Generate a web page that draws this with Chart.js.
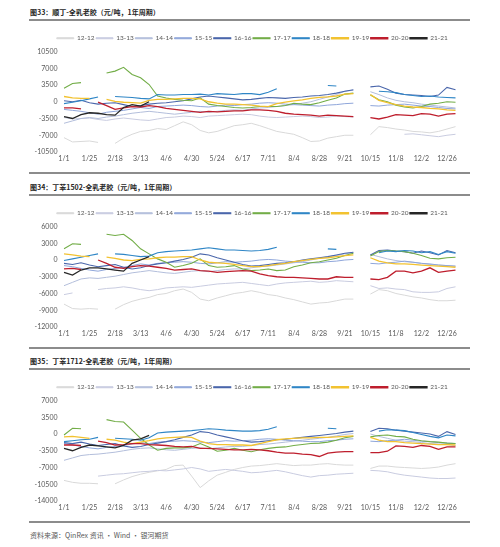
<!DOCTYPE html>
<html lang="zh">
<head>
<meta charset="utf-8">
<title>合成胶-全乳老胶价差</title>
<script src="https://cdn.jsdelivr.net/npm/chart.js@4.4.1/dist/chart.umd.min.js"></script>
<style>
  body { margin: 0; background: #fff; }
  #page { position: relative; width: 500px; height: 547px; overflow: hidden; background: #fff; }
  .panel { position: absolute; left: 29px; width: 441px; height: 175px; }
  .panel .title { position: absolute; left: 1px; top: 5px; height: 14px; line-height: 14px; font-family: 'Noto Sans CJK SC', sans-serif; font-weight: bold; font-size: 7px; color: #262626; white-space: nowrap; }
  .panel .rule { position: absolute; left: 0; width: 441px; height: 2px; background: #8c8c8c; }
  .panel canvas { position: absolute; left: 0; top: 21px; }
  #source { position: absolute; left: 30px; top: 529px; height: 12px; line-height: 12px; font-family: 'Noto Sans CJK SC', sans-serif; font-size: 7px; color: #595959; }
</style>
</head>
<body>
<div id="page">
  <div class="panel" style="top: 0px;">
    <div class="title">图33：顺丁-全乳老胶（元/吨，1年周期）</div>
    <div class="rule" style="top: 19px;"></div>
    <canvas id="chart33" width="441" height="151"></canvas>
    <div class="rule" style="top: 172px;"></div>
  </div>
  <div class="panel" style="top: 175px;">
    <div class="title">图34：丁苯1502-全乳老胶（元/吨，1年周期）</div>
    <div class="rule" style="top: 19px;"></div>
    <canvas id="chart34" width="441" height="151"></canvas>
    <div class="rule" style="top: 172px;"></div>
  </div>
  <div class="panel" style="top: 349px;">
    <div class="title">图35：丁苯1712-全乳老胶（元/吨，1年周期）</div>
    <div class="rule" style="top: 19px;"></div>
    <canvas id="chart35" width="441" height="151"></canvas>
    <div class="rule" style="top: 172px;"></div>
  </div>
  <div id="source">资料来源：QinRex 资讯 · Wind · 银河期货</div>
</div>

<script>
const _ = null;

// x categories, one point every 8 days
const dateLabels = ['1/1','1/9','1/17','1/25','2/2','2/10','2/18','2/26','3/5','3/13',
  '3/21','3/29','4/6','4/14','4/22','4/30','5/8','5/16','5/24','6/1',
  '6/9','6/17','6/25','7/3','7/11','7/19','7/27','8/4','8/12','8/20',
  '8/28','9/5','9/13','9/21','9/29','10/7','10/15','10/23','10/31','11/8',
  '11/16','11/24','12/2','12/10','12/18','12/26','1/3'];
const tickLabels = ['1/1','1/25','2/18','3/13','4/6','4/30','5/24','6/17','7/11','8/4','8/28','9/21','10/15','11/8','12/2','12/26'];
const seriesNames = ['12-12','13-13','14-14','15-15','16-16','17-17','18-18','19-19','20-20','21-21'];

// 图33 顺丁-全乳老胶
const p33_12 = [-7500,-8400,-8300,-8200,-8500,_,-8700,-7600,-6800,-6200,
  -6000,-5600,-5800,-5000,-4200,-4800,-6000,-6500,-6200,-5600,
  -5000,-4800,-4500,-5000,-5600,-6200,-6500,-6800,-7500,-8300,
  -8200,-7600,-7300,-7000,-7000,_,
  -6900,-5200,-5400,-5700,-5900,-6200,-6300,-6500,-6200,-5700,-5200];
const p33_13 = [-3300,-3600,-3500,-3400,-3700,-3900,-3600,-3400,-3600,-3800,
  -3900,-3600,-3300,-3200,-3000,-3100,-3300,-3000,-2900,-2800,
  -2700,-2600,-2700,-3000,-3200,-3300,-3200,-3100,-3000,-3100,
  -3300,-3200,-3000,-3100,-3200,_,
  _,_,_,_,-6800,-6700,-6900,-7100,-7300,-7000,-6800];
const p33_14 = [-4500,-4000,-3500,-3300,-3500,-3200,-3000,-2700,-2400,-2200,
  -2000,-2200,-2400,-2600,-2400,-2200,-2000,-2200,-2000,-1800,
  -1700,-1800,-1500,-1300,-1200,-1000,-800,-600,-300,0,
  500,1000,1500,2200,2400,_,
  2100,1500,800,300,0,-200,-500,-700,-900,-1100,-1300];
const p33_15 = [-1600,-1800,-2000,-2300,-2600,-2200,-2000,-1800,-1500,-1200,
  -1400,-1000,-900,-800,-700,-800,-1000,-1100,-900,-700,
  -800,-600,-500,-300,-200,-300,-500,-600,-700,-800,
  -900,-700,-600,-400,-300,_,
  -800,-900,-700,-600,-500,-700,-900,-1000,-1200,-1400,-1500];
const p33_16 = [200,0,300,-200,-500,-300,-200,-600,-1000,-800,
  -500,-300,-200,0,200,600,1000,1200,1000,800,
  600,400,500,700,900,800,700,900,1000,1200,
  1300,1500,1800,2200,2500,_,
  3100,3300,2600,1800,1500,1400,1300,1100,1400,3000,2500];
const p33_17 = [2800,3800,4000,_,_,6000,6400,7200,5700,5000,
  3600,1200,800,500,300,200,800,-500,-800,-1000,
  -1200,-1300,-1200,-1000,-1000,-1000,-800,-300,-500,-600,
  -200,300,800,1600,1800,_,
  1400,400,0,-700,-1100,-1300,-1000,-500,-300,0,-100];
const p33_18 = [-400,-100,200,600,1000,_,1100,1000,900,700,
  600,1500,1400,1400,1500,1500,1600,1400,1700,1600,
  1500,1700,1700,1500,2000,2700,_,_,_,_,
  _,3400,3300,_,_,_,
  _,2200,2100,1900,1500,1300,1100,1200,1000,900,800];
const p33_19 = [1100,800,700,700,_,500,100,-100,-200,-300,
  300,500,500,600,700,700,600,0,-300,-500,
  -500,-600,-700,-900,-1000,-400,-100,200,400,700,
  900,1000,1200,1600,1700,_,
  1500,300,-200,-600,-900,-1100,-1200,-1400,-1500,-1700,-1800];
const p33_20 = [-1300,-1300,-1500,_,-100,-800,-1600,-1300,-1000,-1100,
  -800,-1000,-1400,-1600,-1800,-2000,-2200,-2000,-2100,-2000,
  -1900,-1900,-1700,-1700,-1800,-2000,-2400,-2600,-2700,-2800,
  -3000,-2800,-2900,-3000,-3100,_,
  -3300,-3600,-3200,-2700,-2800,-2900,-2500,-2600,-3000,-2600,-2500];
const p33_21 = [-3100,-3500,-2700,-2300,-2400,-2700,-2800,-1200,-600,-900,0];

// 图34 丁苯1502-全乳老胶
const p34_12 = [-7900,-8700,-8800,-8700,-8800,_,-8800,-8000,-7400,-7000,
  -6700,-6200,-6000,-5500,-5200,-5800,-7000,-7300,-6800,-6400,
  -6000,-5800,-5500,-5800,-6200,-6400,-6800,-7100,-7500,-7900,
  -7700,-7600,-7300,-7000,-7000,_,
  -6100,-5300,-5500,-6000,-6300,-6600,-6800,-7100,-7300,-7300,-7200];
const p34_13 = [-6200,-5900,_,_,-5300,-5100,-5000,-4800,-5000,-5300,
  -5500,-5300,-5000,-4900,-4800,-4900,-4700,-4500,-4300,-4200,
  -4100,-4000,-4200,-4400,-4600,-4300,-4100,-4000,-3900,-3800,
  -4000,-3900,-3700,-3800,-3900,_,
  -4600,-5100,-5000,-5200,-5300,-5700,-5800,-5800,-5700,-5100,-4800];
const p34_14 = [-4600,-4000,-3400,-3200,-3300,-3100,-2900,-2600,-2300,-2100,
  -1900,-2100,-2300,-2400,-2200,-2000,-1900,-2100,-1900,-1700,
  -1600,-1600,-1400,-1200,-1100,-900,-700,-500,-300,0,
  300,500,800,1100,1300,_,
  1000,600,200,-100,-300,-400,-600,-800,-900,-1000,-1100];
const p34_15 = [-1000,-1200,-1500,-1800,-2000,-1700,-1500,-1300,-1000,-700,
  -900,-600,-500,-400,-300,-400,-600,-700,-500,-300,
  -400,-300,-200,0,100,0,-200,-300,-400,-500,
  -500,-300,-200,0,100,_,
  -600,-700,-500,-400,-200,-400,-600,-700,-900,-1000,-1100];
const p34_16 = [-600,-800,-500,-900,-1200,-1000,-800,-1300,-1600,-1400,
  -1000,-700,-500,-200,100,500,1100,900,400,0,
  -400,-800,-1100,-1000,-800,-600,-500,-300,0,200,
  400,600,900,1200,1400,_,
  900,1700,1800,1600,1500,1200,1600,1300,900,1700,1300];
const p34_17 = [2000,2900,2800,_,_,4600,4400,4600,3500,2000,
  1100,200,-400,-1300,-1000,-600,200,-1000,-1300,-1200,
  -1000,-1600,-1900,-1800,-1600,-1900,-1800,-1200,-900,-500,
  -300,0,300,800,1200,_,
  700,1500,1700,1600,1500,1200,800,300,200,400,500];
const p34_18 = [-100,200,500,800,1100,_,1100,1000,800,600,
  700,1300,1500,1600,1700,1800,2000,2200,2000,1800,
  1800,1700,1600,1700,1900,2300,_,_,_,_,
  _,2000,1900,_,_,_,
  _,1300,1600,1500,1700,1600,1300,1500,1000,1500,1200];
const p34_19 = [1100,900,700,600,_,500,300,0,-100,100,
  200,400,500,500,600,600,0,-400,-500,-600,
  -800,-1000,-1200,-1200,-1000,-800,-600,-300,-100,100,
  300,400,600,800,900,_,
  400,-200,-500,-700,-700,-800,-900,-1000,-1100,-1200,-1300];
const p34_20 = [-1600,-1500,-1700,_,0,-600,-1300,-1500,-1200,-1000,
  -1100,-1300,-1500,-1800,-1700,-1600,-1900,-2000,-2200,-2100,
  -2000,-1900,-2000,-2500,-2800,-3000,-3100,-3100,-3200,-3300,
  -3400,-3400,-3000,-3100,-3100,_,
  -3400,-3500,-3100,-2000,-2000,-2300,-2000,-1400,-2200,-2000,-1800];
const p34_21 = [-2200,-2700,-1800,-1400,-1400,-1600,-1800,-2000,-600,0,600];

// 图35 丁苯1712-全乳老胶
const p35_12 = [-9700,-10100,-10300,-10300,-10400,_,-10400,-9600,-8900,-8400,
  -8000,-7700,-7400,-6600,-6500,-8800,-11200,-9800,-8600,-8000,
  -7400,-7000,-6700,-6600,-6400,-6200,-6400,-6600,-6500,-6500,
  -6300,-6200,-6400,-6500,-6500,_,
  -7200,-6700,-6700,-6900,-7000,-7100,-7200,-7100,-6900,-6500,-6200];
const p35_13 = [_,_,_,_,-8800,-8600,-8400,-8300,-8100,-7900,
  -7800,-7600,-7700,-7500,-7300,-7000,-7300,-7800,-7600,-7400,
  -7600,-7800,-8100,-8000,-7800,-7600,-7900,-8300,-8700,-9000,
  -8700,-8600,-8400,-8300,-8200,_,
  -7600,-7700,-7900,-8300,-8600,-8800,-9000,-9200,-9300,-9300,-9200];
const p35_14 = [-5500,-5000,-4500,-4300,-4200,-4000,-3800,-3500,-3200,-3000,
  -2900,-3100,-3300,-3400,-3200,-3000,-2900,-3100,-2900,-2700,
  -2600,-2600,-2400,-2200,-2100,-1900,-1700,-1500,-1300,-1100,
  -900,-700,-400,-100,100,_,
  0,-500,-900,-1300,-1500,-1600,-1800,-2000,-2100,-2200,-2400];
const p35_15 = [-2000,-2300,-2600,-2900,-3100,-2800,-2600,-2400,-2100,-1800,
  -2000,-1700,-1600,-1500,-1400,-1500,-1700,-1800,-1600,-1400,
  -1500,-1400,-1300,-1100,-1000,-1100,-1300,-1400,-1500,-1600,
  -1600,-1400,-1300,-1100,-1000,_,
  -1500,-1600,-1400,-1300,-1100,-1300,-1500,-1600,-1800,-1900,-2000];
const p35_16 = [-1800,-2000,-1700,-2100,-2400,-2200,-2000,-2500,-2800,-2600,
  -2200,-1900,-1600,-1200,-700,-200,500,300,-200,-600,
  -1000,-1400,-1700,-1600,-1400,-1200,-1100,-900,-700,-500,
  -300,-100,100,400,600,_,
  500,1200,1100,800,600,400,200,0,-500,500,-100];
const p35_17 = [-200,1200,1100,_,_,3000,2600,2500,800,-900,
  -2300,-3400,-3000,-2900,-2900,-2700,-2000,-2700,-3600,-3400,
  -3000,-3400,-3700,-3300,-3000,-2800,-2700,-2400,-2200,-2000,
  -1900,-1700,-1300,-800,-500,_,
  -600,-300,-200,-500,-600,-1100,-1400,-1600,-1700,-1900,-2000];
const p35_18 = [-1600,-1400,-1200,-1100,-700,_,-900,-1000,-1100,-1300,
  -800,200,400,500,600,700,900,1100,1000,800,
  700,600,600,700,1000,1500,_,_,_,_,
  _,1200,1100,_,_,_,
  _,600,900,800,700,300,-100,-500,-800,-200,-400];
const p35_19 = [-600,-500,-700,-900,_,-1100,-1300,-1700,-2000,-1700,
  -1400,-1000,-800,-700,-600,-700,-1500,-2000,-2200,-2200,
  -2300,-2300,-2400,-2000,-1600,-1200,-1000,-900,-800,-800,
  -700,-700,-600,-500,-400,_,
  -700,-1300,-1600,-1600,-1800,-1900,-2000,-2100,-2200,-2200,-2300];
const p35_20 = [-2300,-2300,-2400,_,-1500,-1800,-2300,-2200,-2000,-2000,
  -2200,-2300,-2400,-2600,-2700,-2600,-3000,-3000,-3100,-3200,
  -3300,-3300,-3200,-3300,-3500,-3800,-4000,-4000,-4200,-4300,
  -4700,-4000,-3800,-3700,-3700,_,
  -3900,-3900,-3600,-2500,-2600,-2800,-2400,-2600,-3200,-2700,-2700];
const p35_21 = [-3000,-3500,-2800,-2300,-2500,-2700,-2900,-2400,-1300,-1000,-300];

// line styles per year
const lineColors = ['#d9d9d9','#c9cce0','#b3bedb','#8fa6da','#4a66ab','#72ad47','#2f86c6','#f2c230','#be1e2d','#262626'];
const lineWidths = [1, 1, 1, 1, 1.1, 1.1, 1.1, 1.3, 1.3, 1.3];
const textColor = '#595959';
const tickFont = { family: 'Lato, "Liberation Sans", sans-serif', size: 7 };
const legendFont = { family: 'Lato, "Liberation Sans", sans-serif', size: 6.5 };

// the legend in the original is centred on the whole panel, not on the plot
const legendOffset = {
  id: 'legendOffset',
  afterLayout(chart) {
    chart.legend.left += 10;
    chart.legend.right += 10;
  }
};

function renderSpreadChart(canvasId, series, yMin, yMax, yStep) {
  const ctx = document.getElementById(canvasId).getContext('2d');

  return new Chart(ctx, {
    type: 'line',
    data: {
      labels: dateLabels,
      datasets: series.map((values, i) => ({
        label: seriesNames[i],
        data: values,
        borderColor: lineColors[i],
        backgroundColor: lineColors[i],
        borderWidth: lineWidths[i],
        pointRadius: 0,
        tension: 0,
        spanGaps: false,
        // newer years drawn on top
        order: series.length - i
      }))
    },
    plugins: [legendOffset],
    options: {
      responsive: false,
      animation: false,
      devicePixelRatio: 1,
      layout: { padding: { top: 12.5, right: 14.5, bottom: 6, left: 0 } },
      plugins: {
        legend: {
          position: 'top',
          labels: {
            boxWidth: 17,
            boxHeight: 1,
            padding: 1.5,
            color: textColor,
            font: legendFont,
            sort: (a, b) => a.datasetIndex - b.datasetIndex
          }
        },
        tooltip: { enabled: false }
      },
      scales: {
        x: {
          grid: { display: false, drawTicks: false },
          border: { display: false },
          ticks: {
            autoSkip: false,
            maxRotation: 0,
            padding: 3,
            color: textColor,
            font: tickFont,
            callback: (value, index) => tickLabels.includes(dateLabels[index]) ? dateLabels[index] : ''
          },
          afterFit: (scale) => { scale.height = 14; }
        },
        y: {
          min: yMin,
          max: yMax,
          grid: { display: false, drawTicks: false },
          border: { display: false },
          ticks: {
            stepSize: yStep,
            padding: 6.5,
            color: textColor,
            font: tickFont,
            callback: (value) => String(value)
          },
          afterFit: (scale) => { scale.width = 35; }
        }
      }
    }
  });
}

// Render Charts
renderSpreadChart('chart33', [p33_12, p33_13, p33_14, p33_15, p33_16, p33_17, p33_18, p33_19, p33_20, p33_21], -10500, 10500, 3500);
renderSpreadChart('chart34', [p34_12, p34_13, p34_14, p34_15, p34_16, p34_17, p34_18, p34_19, p34_20, p34_21], -12000, 6000, 3000);
renderSpreadChart('chart35', [p35_12, p35_13, p35_14, p35_15, p35_16, p35_17, p35_18, p35_19, p35_20, p35_21], -14000, 7000, 3500);
</script>
</body>
</html>
